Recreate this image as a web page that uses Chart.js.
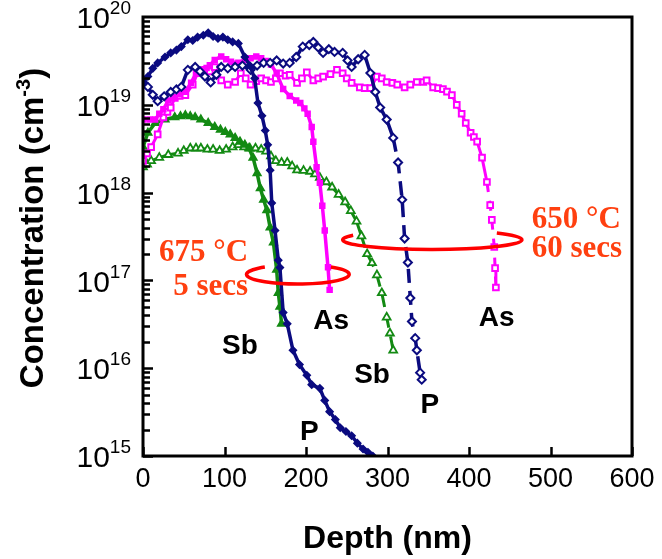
<!DOCTYPE html>
<html>
<head>
<meta charset="utf-8">
<script src="https://cdn.jsdelivr.net/npm/chart.js@4.4.1/dist/chart.umd.min.js"></script>
<style>
  html, body { margin: 0; padding: 0; background: #fff; }
  #caixa { position: relative; width: 662px; height: 559px; }
</style>
</head>
<body>
<div id="caixa"><canvas id="perfil" width="662" height="559"></canvas></div>
<script>
// Perfils SIMS llegits del gràfic: profunditat (nm) i concentració (cm-3)
const pDepth5 = [0, 6, 12, 18, 27, 34, 41, 47, 55, 61, 67, 74, 80, 86, 92, 98, 104, 110, 117, 125, 131, 137, 141, 146, 150, 153, 156, 158, 162, 166, 168, 172, 177, 184, 192, 201, 207, 217, 223, 229, 236, 242, 249, 256, 263, 270, 276, 282];
const pConc5 = [1.8e19, 2.1e19, 2.6e19, 3.0e19, 3.5e19, 3.9e19, 4.2e19, 4.6e19, 5.5e19, 5.4e19, 5.9e19, 6.2e19, 6.6e19, 6.0e19, 5.7e19, 5.9e19, 5.5e19, 5.2e19, 5.0e19, 3.5e19, 2.8e19, 2.0e19, 1.05e19, 7.5e18, 5.1e18, 3.5e18, 1.8e18, 7.6e17, 3.7e17, 1.7e17, 1.4e17, 4.3e16, 3.2e16, 1.6e16, 1.1e16, 8.3e15, 6.5e15, 5.9e15, 4.3e15, 3.2e15, 2.6e15, 2.1e15, 1.9e15, 1.7e15, 1.4e15, 1.2e15, 1.1e15, 1.0e15];

const pDepth60 = [0, 6, 12, 18, 26, 34, 41, 47, 55, 64, 70, 76, 83, 90, 96, 104, 113, 122, 132, 140, 148, 156, 164, 172, 180, 188, 196, 204, 209, 215, 221, 228, 235, 245, 251, 256, 264, 272, 279, 285, 291, 299, 307, 313, 318, 321, 325, 328, 330, 334, 336, 340, 342];
const pConc60 = [1.8e19, 1.6e19, 1.3e19, 1.1e19, 1.25e19, 1.4e19, 1.5e19, 1.6e19, 2.5e19, 2.7e19, 2.4e19, 2.1e19, 1.8e19, 2.2e19, 2.7e19, 2.6e19, 2.7e19, 2.8e19, 2.5e19, 2.8e19, 3.0e19, 3.0e19, 3.2e19, 2.95e19, 3.0e19, 3.5e19, 4.6e19, 4.8e19, 5.2e19, 4.5e19, 3.9e19, 4.3e19, 4.0e19, 3.9e19, 3.2e19, 2.7e19, 3.3e19, 3.7e19, 2.3e19, 1.4e19, 9.3e18, 6.8e18, 4.2e18, 2.2e18, 8.3e17, 3.0e17, 1.6e17, 6.3e16, 3.4e16, 2.2e16, 1.6e16, 8.9e15, 7.4e15];

const asDepth5 = [0, 8, 15, 20, 25, 31, 39, 45, 52, 59, 65, 72, 78, 82, 88, 96, 102, 108, 117, 125, 132, 139, 145, 151, 157, 164, 172, 180, 188, 193, 198, 202, 207, 209, 213, 217, 220, 223, 227, 229];
const asConc5 = [6.8e18, 6.8e18, 6.8e18, 7.9e18, 8.9e18, 1.12e19, 1.23e19, 1.32e19, 1.41e19, 1.78e19, 2.29e19, 2.51e19, 2.63e19, 2.82e19, 3.24e19, 3.55e19, 3.31e19, 3.09e19, 3.02e19, 3.24e19, 3.39e19, 3.55e19, 3.39e19, 3.16e19, 2.88e19, 2.29e19, 1.51e19, 1.26e19, 1.12e19, 1.05e19, 9.1e18, 7.9e18, 5.6e18, 3.8e18, 1.95e18, 1.29e18, 7.1e17, 3.7e17, 1.41e17, 7.8e16];

const asDepth60 = [0, 5, 10, 18, 25, 30, 34, 39, 45, 52, 61, 67, 76, 82, 88, 96, 104, 113, 120, 126, 132, 139, 145, 151, 157, 163, 168, 175, 180, 189, 195, 201, 209, 215, 221, 230, 238, 245, 250, 256, 266, 272, 279, 287, 293, 299, 306, 312, 321, 328, 336, 344, 348, 356, 362, 368, 373, 379, 385, 391, 396, 402, 406, 410, 416, 422, 426, 428, 431, 432, 433];
const asConc60 = [2.3e18, 2.8e18, 3.3e18, 4.6e18, 7.2e18, 8.3e18, 9.3e18, 1.2e19, 1.26e19, 1.29e19, 1.7e19, 2.29e19, 2.51e19, 2.4e19, 2.69e19, 1.9e19, 1.7e19, 1.82e19, 2.29e19, 2.0e19, 1.7e19, 1.86e19, 2.0e19, 1.9e19, 1.82e19, 2.0e19, 2.29e19, 2.14e19, 2.19e19, 1.78e19, 2.0e19, 2.34e19, 1.9e19, 2.0e19, 2.09e19, 2.24e19, 2.51e19, 2.29e19, 2.0e19, 1.78e19, 1.58e19, 1.55e19, 1.55e19, 2.09e19, 2.0e19, 1.82e19, 1.78e19, 1.7e19, 1.58e19, 1.7e19, 1.82e19, 1.82e19, 1.9e19, 1.58e19, 1.55e19, 1.51e19, 1.41e19, 1.29e19, 1.0e19, 7.9e18, 6.2e18, 4.8e18, 4.3e18, 3.8e18, 2.5e18, 1.32e18, 7.2e17, 4.9e17, 2.4e17, 1.38e17, 8.3e16];

const sbDepth5 = [0, 6, 15, 27, 39, 46, 52, 58, 64, 71, 80, 88, 95, 101, 107, 113, 119, 125, 130, 135, 140, 144, 148, 152, 156, 160, 164, 166, 168, 170];
const sbConc5 = [3.3e18, 4.8e18, 6.2e18, 6.8e18, 7.2e18, 7.4e18, 7.6e18, 7.4e18, 7.2e18, 6.8e18, 6.2e18, 5.6e18, 5.2e18, 4.9e18, 4.6e18, 4.2e18, 3.8e18, 3.5e18, 3.2e18, 2.5e18, 1.66e18, 1.12e18, 8.3e17, 6.3e17, 4.0e17, 2.7e17, 1.32e17, 7.2e16, 5.0e16, 3.2e16];

const sbDepth60 = [0, 5, 10, 20, 31, 43, 50, 58, 65, 71, 79, 86, 94, 102, 110, 117, 124, 131, 138, 145, 151, 157, 163, 170, 177, 183, 189, 197, 205, 211, 217, 225, 232, 240, 248, 255, 262, 268, 275, 281, 287, 293, 299, 303, 307];
const sbConc60 = [1.95e18, 2.1e18, 2.3e18, 2.5e18, 2.7e18, 2.8e18, 3.0e18, 3.2e18, 3.2e18, 3.2e18, 3.1e18, 3.1e18, 3.0e18, 3.1e18, 3.3e18, 3.5e18, 3.3e18, 3.2e18, 3.2e18, 3.1e18, 2.95e18, 2.6e18, 2.3e18, 2.2e18, 2.2e18, 2.0e18, 1.8e18, 1.78e18, 1.74e18, 1.62e18, 1.48e18, 1.32e18, 1.15e18, 9.5e17, 7.8e17, 6.2e17, 4.7e17, 3.2e17, 2.0e17, 1.58e17, 1.15e17, 7.2e16, 3.8e16, 2.5e16, 1.6e16];

const ticksX = [0, 100, 200, 300, 400, 500, 600];
const exponentsY = [15, 16, 17, 18, 19, 20];

// etiquetes del dibuix (profunditat, concentració)
const etiquetes = [
  { text: 'Sb', d: 119, c: 1.8e16 },
  { text: 'As', d: 231, c: 3.4e16 },
  { text: 'Sb', d: 281, c: 8.3e15 },
  { text: 'P', d: 204, c: 1.86e15 },
  { text: 'P', d: 352, c: 3.8e15 },
  { text: 'As', d: 434, c: 3.7e16 }
];
const condicions = [
  { text: '675 °C', d: 129, c: 2.04e17, align: 'right' },
  { text: '5 secs', d: 129, c: 8.5e16, align: 'right' },
  { text: '650 °C', d: 477, c: 4.9e17, align: 'left' },
  { text: '60 secs', d: 477, c: 2.3e17, align: 'left' }
];
// llaços vermells: centre, semieix (nm / dècades), angles oberts
const llacos = [
  { d: 190, c: 1.17e17, rx: 63, ry: 0.11, a0: -50, a1: 230 },
  { d: 355, c: 2.9e17, rx: 110, ry: 0.11, a0: -44, a1: 208 }
];

const NAVY = '#0b0b80', MAGENTA = '#ff00ff', VERD = '#138a13';

function punts(d, c) { return d.map((x, i) => ({ x: x, y: c[i] })); }
function discontinu(limit, dash) {
  return { borderDash: ctx => ctx.p0.parsed.x >= limit ? dash : [] };
}

const decoracio = {
  id: 'decoracio',
  afterDatasetsDraw(chart) {
    const { ctx, chartArea: a, scales: { x, y } } = chart;
    ctx.save();

    // marc
    ctx.strokeStyle = '#000';
    ctx.lineWidth = 3;
    ctx.strokeRect(a.left, a.top, a.right - a.left, a.bottom - a.top);

    // marques cap a dins
    ctx.lineWidth = 2.5;
    ctx.beginPath();
    for (let e = exponentsY[0]; e < exponentsY[exponentsY.length - 1]; e++) {
      for (let m = 1; m <= 9; m++) {
        const py = Math.round(y.getPixelForValue(m * Math.pow(10, e))) + 0.5;
        ctx.moveTo(a.left, py);
        ctx.lineTo(a.left + (m === 1 ? 10 : 7), py);
      }
    }
    ticksX.forEach(v => {
      const px = Math.round(x.getPixelForValue(v)) + 0.5;
      ctx.moveTo(px, a.bottom);
      ctx.lineTo(px, a.bottom - 9);
    });
    ctx.stroke();

    // etiquetes dels eixos
    ctx.fillStyle = '#000';
    ctx.font = '27px "Liberation Sans", Arial, sans-serif';
    ctx.textAlign = 'center';
    ctx.textBaseline = 'middle';
    ticksX.forEach(v => ctx.fillText(String(v), x.getPixelForValue(v), a.bottom + 24));

    exponentsY.forEach(e => {
      const py = y.getPixelForValue(Math.pow(10, e));
      const dreta = a.left - 12;
      ctx.textAlign = 'right';
      ctx.font = '19px "Liberation Sans", Arial, sans-serif';
      const w = ctx.measureText(String(e)).width;
      ctx.fillText(String(e), dreta, py - 8);
      ctx.font = '30px "Liberation Sans", Arial, sans-serif';
      ctx.fillText('10', dreta - w, py + 3);
    });

    // títols
    ctx.font = 'bold 32px "Liberation Sans", Arial, sans-serif';
    ctx.textAlign = 'center';
    ctx.fillText('Depth (nm)', (a.left + a.right) / 2, a.bottom + 83);

    ctx.save();
    ctx.translate(34, 228);
    ctx.rotate(-Math.PI / 2);
    const gran = 'bold 33px "Liberation Sans", Arial, sans-serif';
    const petit = 'bold 20px "Liberation Sans", Arial, sans-serif';
    ctx.font = gran;
    const w1 = ctx.measureText('Concentration (cm').width;
    const w3 = ctx.measureText(')').width;
    ctx.font = petit;
    const w2 = ctx.measureText('-3').width;
    let x0 = -(w1 + w2 + w3) / 2;
    ctx.textAlign = 'left';
    ctx.font = gran;
    ctx.fillText('Concentration (cm', x0, 0);
    ctx.font = petit;
    ctx.fillText('-3', x0 + w1, -10);
    ctx.font = gran;
    ctx.fillText(')', x0 + w1 + w2, 0);
    ctx.restore();

    // llaços
    ctx.strokeStyle = '#ff0000';
    ctx.lineWidth = 3.5;
    llacos.forEach(l => {
      const cx = x.getPixelForValue(l.d), cy = y.getPixelForValue(l.c);
      const rx = x.getPixelForValue(l.d + l.rx) - cx;
      const ry = cy - y.getPixelForValue(l.c * Math.pow(10, l.ry));
      ctx.beginPath();
      ctx.ellipse(cx, cy, rx, ry, 0, l.a0 * Math.PI / 180, l.a1 * Math.PI / 180);
      ctx.stroke();
    });

    // noms dels dopants
    ctx.fillStyle = '#000';
    ctx.font = 'bold 28px "Liberation Sans", Arial, sans-serif';
    ctx.textAlign = 'center';
    etiquetes.forEach(t => ctx.fillText(t.text, x.getPixelForValue(t.d), y.getPixelForValue(t.c)));

    // condicions de recuit
    ctx.fillStyle = '#ff4010';
    ctx.font = 'bold 31px "Liberation Serif", "Times New Roman", serif';
    condicions.forEach(t => {
      ctx.textAlign = t.align;
      ctx.fillText(t.text, x.getPixelForValue(t.d), y.getPixelForValue(t.c));
    });
    ctx.restore();
  }
};

const ctx = document.getElementById('perfil').getContext('2d');
const chart = new Chart(ctx, {
  type: 'scatter',
  data: {
    datasets: [
      {
        label: 'P 675 °C 5 s',
        data: punts(pDepth5, pConc5),
        showLine: true,
        borderColor: NAVY, backgroundColor: NAVY,
        borderWidth: 3.5, pointStyle: 'rectRot', pointRadius: 3.5, pointBorderWidth: 1.5
      },
      {
        label: 'P 650 °C 60 s',
        data: punts(pDepth60, pConc60),
        showLine: true,
        borderColor: NAVY, backgroundColor: '#fff',
        borderWidth: 3.5, pointStyle: 'rectRot', pointRadius: 4, pointBorderWidth: 2,
        segment: discontinu(307, [14, 8])
      },
      {
        label: 'As 675 °C 5 s',
        data: punts(asDepth5, asConc5),
        showLine: true,
        borderColor: MAGENTA, backgroundColor: MAGENTA,
        borderWidth: 3.5, pointStyle: 'rect', pointRadius: 3.5, pointBorderWidth: 1.5
      },
      {
        label: 'As 650 °C 60 s',
        data: punts(asDepth60, asConc60),
        showLine: true,
        borderColor: MAGENTA, backgroundColor: '#fff',
        borderWidth: 3, pointStyle: 'rect', pointRadius: 4, pointBorderWidth: 2,
        segment: discontinu(420, [10, 9])
      },
      {
        label: 'Sb 675 °C 5 s',
        data: punts(sbDepth5, sbConc5),
        showLine: true,
        borderColor: VERD, backgroundColor: VERD,
        borderWidth: 3.5, pointStyle: 'triangle', pointRadius: 4.5, pointBorderWidth: 1.5
      },
      {
        label: 'Sb 650 °C 60 s',
        data: punts(sbDepth60, sbConc60),
        showLine: true,
        borderColor: VERD, backgroundColor: '#fff',
        borderWidth: 3, pointStyle: 'triangle', pointRadius: 4.5, pointBorderWidth: 1.8,
        segment: discontinu(268, [12, 9])
      }
    ]
  },
  options: {
    responsive: false,
    animation: false,
    layout: { padding: { top: 17, right: 30, left: 0, bottom: 0 } },
    scales: {
      x: {
        type: 'linear', min: 0, max: 600,
        ticks: { display: false }, grid: { display: false }, border: { display: false },
        afterFit: s => { s.height = 103; }
      },
      y: {
        type: 'logarithmic', min: 1e15, max: 1e20,
        ticks: { display: false }, grid: { display: false }, border: { display: false },
        afterFit: s => { s.width = 143; }
      }
    },
    plugins: {
      legend: { display: false },
      tooltip: { enabled: false }
    }
  },
  plugins: [decoracio]
});
</script>
</body>
</html>
